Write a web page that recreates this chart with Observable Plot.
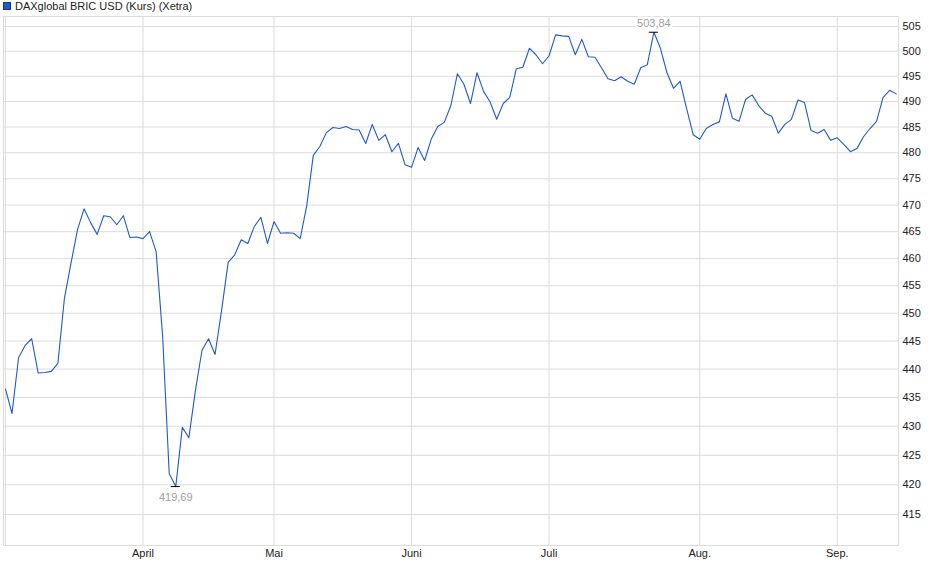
<!DOCTYPE html>
<html>
<head>
<meta charset="utf-8">
<script src="https://cdn.jsdelivr.net/npm/d3@7"></script>
<script src="https://cdn.jsdelivr.net/npm/@observablehq/plot@0.6"></script>
<style>
  body { margin: 0; background: #fff; font-family: "Liberation Sans", Arial, sans-serif; }
  #legend { height: 14px; position: relative; font-size: 11px; color: #222; }
  #legend .sw { position: absolute; left: 3px; top: 2px; width: 6px; height: 6px; background: #1f5ac8; border: 1px solid #123a80; }
  #legend .tx { position: absolute; left: 15px; top: -1px; line-height: 14px; white-space: nowrap; }
  #chart svg { display: block; }
</style>
</head>
<body>
<div id="legend"><span class="sw"></span><span class="tx">DAXglobal BRIC USD (Kurs) (Xetra)</span></div>
<div id="chart"></div>
<script>
// Daily closing values (trading days, 3 March – 12 September)
const values = [
  436.5, 432.2, 442.0, 444.2, 445.4, 439.3, 439.4, 439.6, 441.0, 452.7,
  459.1, 465.4, 469.3, 466.7, 464.5, 468.0, 467.8, 466.3, 468.0, 463.9,
  464.0, 463.7, 465.0, 461.3, 445.8, 421.9, 419.69, 429.8, 428.0, 436.2,
  443.3, 445.4, 442.6, 450.5, 459.3, 460.7, 463.5, 462.8, 466.0, 467.7,
  462.8, 466.9, 464.7, 464.8, 464.7, 463.7, 469.9, 479.5, 481.2, 483.9,
  484.9, 484.7, 485.1, 484.5, 484.4, 481.8, 485.5, 482.4, 483.5, 480.2,
  481.8, 477.7, 477.2, 481.0, 478.5, 482.6, 485.1, 485.9, 489.2, 495.5,
  493.4, 489.6, 495.7, 492.0, 489.9, 486.5, 489.6, 490.8, 496.5, 496.8,
  500.6, 499.3, 497.5, 499.1, 503.3, 503.1, 503.0, 499.3, 502.4, 498.9,
  498.8, 496.7, 494.5, 494.1, 494.9, 494.0, 493.4, 496.7, 497.3, 503.84,
  500.6, 495.7, 492.6, 494.0, 488.6, 483.5, 482.6, 484.7, 485.5, 486.0,
  491.5, 486.7, 486.1, 490.4, 491.3, 489.2, 487.7, 487.1, 483.8, 485.5,
  486.5, 490.3, 489.8, 484.3, 483.8, 484.5, 482.4, 482.9, 481.6, 480.2,
  480.8, 483.1, 484.7, 486.1, 490.8, 492.2, 491.5
];
// Index of first trading day of each month
const monthStarts = [0, 21, 41, 62, 83, 106, 127];
const monthLabels = ["", "April", "Mai", "Juni", "Juli", "Aug.", "Sep."];
const yTicks = [415, 420, 425, 430, 435, 440, 445, 450, 455, 460, 465, 470, 475, 480, 485, 490, 495, 500, 505];

const data = values.map((v, i) => ({i, v}));
const minIdx = d3.minIndex(values);
const maxIdx = d3.maxIndex(values);
const fmt = v => v.toFixed(2).replace(".", ",");
const minPt = [{i: minIdx, v: values[minIdx]}];
const maxPt = [{i: maxIdx, v: values[maxIdx]}];
const extremes = minPt.concat(maxPt);

const grid = "#dcdcdc";
const chart = Plot.plot({
  width: 940,
  height: 565,
  marginTop: 2,
  marginBottom: 34,
  marginLeft: 3,
  marginRight: 42,
  style: {fontFamily: "'Liberation Sans', Arial, sans-serif", fontSize: "11px", color: "#222", background: "#fff"},
  x: {domain: [-0.3, 136.35], axis: null},
  y: {type: "log", domain: [409.86, 507.04], axis: null},
  marks: [
    Plot.gridY(yTicks, {stroke: grid, strokeOpacity: 1}),
    Plot.gridX(monthStarts, {stroke: grid, strokeOpacity: 1}),
    Plot.frame({stroke: grid}),
    Plot.axisY(yTicks, {anchor: "right", tickSize: 0, tickPadding: 4, textAnchor: "start", tickFormat: d => String(d), label: null, fill: "#222"}),
    Plot.axisX(monthStarts, {anchor: "bottom", tickSize: 0, tickPadding: 4, tickFormat: d => monthLabels[monthStarts.indexOf(d)], label: null, fill: "#222"}),
    Plot.text(maxPt, {x: "i", y: "v", dy: -9, text: d => fmt(d.v), fill: "#a0a0a0", stroke: "#fff", strokeWidth: 5, fontSize: 11}),
    Plot.text(minPt, {x: "i", y: "v", dy: 11, text: d => fmt(d.v), fill: "#a0a0a0", stroke: "#fff", strokeWidth: 3, fontSize: 11}),
    Plot.line(data, {x: "i", y: "v", stroke: "#1f5ac8", strokeWidth: 1.1}),
    Plot.ruleY(extremes, {y: "v", x1: d => d.i - 0.7, x2: d => d.i + 0.7, stroke: "#000", strokeWidth: 1})
  ]
});
document.getElementById("chart").appendChild(chart);
</script>
</body>
</html>
